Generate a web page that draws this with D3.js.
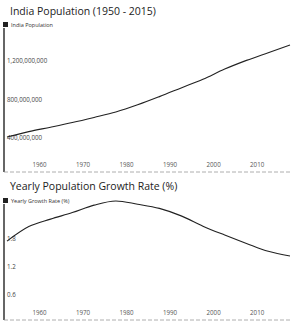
<html>
<script src="https://d3js.org/d3.v7.min.js"></script>
<body style="margin:0;background:#fff">
<svg width="295" height="324"></svg>
<script>
// ---------------- data ----------------
const years = [1950, 1955, 1960, 1965, 1970, 1975, 1980, 1985, 1990, 1995, 2000, 2005, 2010, 2015];
const population = [372e6, 428e6, 474e6, 522e6, 575e6, 631e6, 705e6, 790e6, 880e6, 970e6, 1075e6, 1165e6, 1245e6, 1324e6];
const growthRate = [1.67, 1.98, 2.14, 2.28, 2.44, 2.53, 2.46, 2.37, 2.21, 1.99, 1.8, 1.62, 1.45, 1.35];
const xTicks = [1960, 1970, 1980, 1990, 2000, 2010];
const popTicks = [400e6, 800e6, 1200e6];
const rateTicks = [0.6, 1.2, 1.8];

const svg = d3.select("svg");
const font = "'Open Sans', sans-serif";

const x = d3.scaleLinear().domain([1950, 2015]).range([7, 290]);

function panel(opt) {
  const g = svg.append("g");
  // title
  g.append("text").attr("x", 10).attr("y", opt.titleY)
    .style("font-family", font).style("font-size", "10.5px").style("fill", "#222")
    .text(opt.title);
  // legend
  g.append("rect").attr("x", 3).attr("y", opt.top - 2).attr("width", 5).attr("height", 5).attr("fill", "#222");
  g.append("text").attr("x", 11).attr("y", opt.top + 3)
    .style("font-family", font).style("font-size", "5.5px").style("fill", "#333")
    .text(opt.legend);

  const y = opt.y;
  // y axis line
  g.append("line").attr("x1", 4).attr("x2", 4).attr("y1", opt.top + 4).attr("y2", opt.bottom)
    .attr("stroke", "#333").attr("stroke-width", 1.5);
  // y tick labels (hang just below tick)
  g.selectAll(".yl").data(opt.ticks).enter().append("text")
    .attr("x", 7).attr("y", d => y(d) + 6)
    .style("font-family", font).style("font-size", "6.2px").style("fill", "#444")
    .text(opt.fmt);
  // x baseline
  g.append("line").attr("x1", 4).attr("x2", 292).attr("y1", opt.bottom).attr("y2", opt.bottom)
    .attr("stroke", "#999").attr("stroke-width", 0.8).attr("stroke-dasharray", "4,2");
  // x tick labels
  g.selectAll(".xl").data(xTicks).enter().append("text")
    .attr("x", d => x(d) - 4).attr("y", opt.bottom - 5)
    .attr("text-anchor", "end")
    .style("font-family", font).style("font-size", "6.2px").style("fill", "#555")
    .text(d => d);
  // line
  const line = d3.line().x((d, i) => x(years[i])).y(d => y(d)).curve(d3.curveMonotoneX);
  g.append("path").datum(opt.values).attr("d", line)
    .attr("fill", "none").attr("stroke", "#222").attr("stroke-width", 1.1);
}

panel({
  title: "India Population (1950 - 2015)",
  legend: "India Population",
  titleY: 15, top: 24, bottom: 172,
  y: d3.scaleLinear().domain([0, 1200e6]).range([173, 57]),
  ticks: popTicks,
  fmt: d3.format(","),
  values: population
});

panel({
  title: "Yearly Population Growth Rate (%)",
  legend: "Yearly Growth Rate (%)",
  titleY: 190, top: 200, bottom: 320,
  y: d3.scaleLinear().domain([0, 1.8]).range([319, 235]),
  ticks: rateTicks,
  fmt: d3.format(".1f"),
  values: growthRate
});
</script>
</body>
</html>
